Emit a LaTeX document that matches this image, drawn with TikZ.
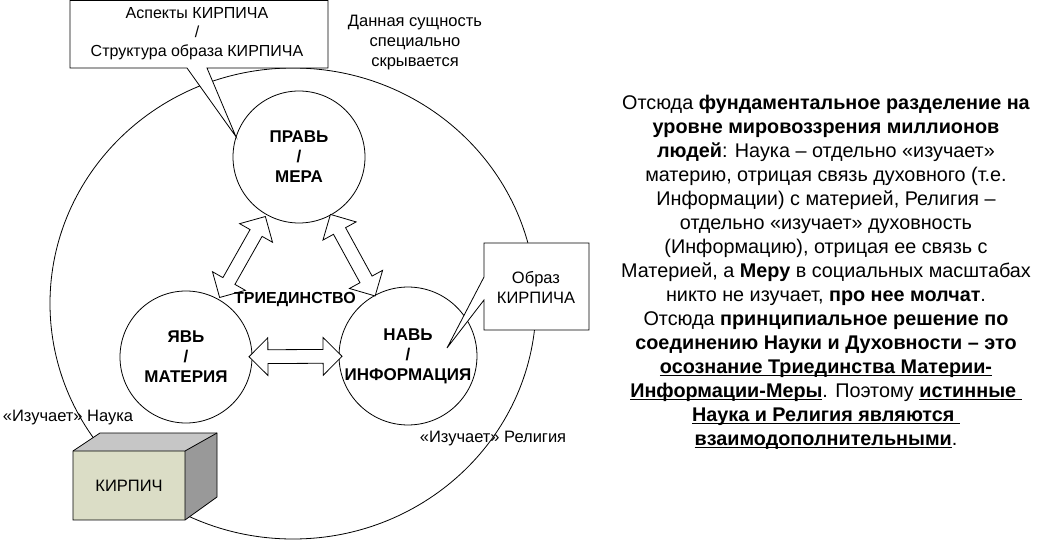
\documentclass[tikz,border=0pt]{standalone}
\usepackage{fontspec}
\setmainfont{Liberation Sans}
\usetikzlibrary{shapes.arrows}

% underline placed like a word processor does it
\newcommand\ulword[1]{\setbox0\hbox{#1}\rlap{\rule[-2.8pt]{\wd0}{1.3pt}}\box0}

\tikzset{
  ring/.style={circle, draw, fill=white, minimum size=132pt, inner sep=0pt, align=center, font=\bfseries\fontsize{17}{20}\selectfont},
  dblarr/.style={double arrow, draw, fill=white, minimum height=93pt, inner xsep=0pt, inner ysep=6.5pt, double arrow head extend=12pt},
  lbl/.style={align=center, inner sep=0pt, font=\fontsize{16.5}{20}\selectfont},
}

\begin{document}
\begin{tikzpicture}[x=1pt, y=-1pt, line width=0.8pt]
            \useasboundingbox (0,0) rectangle (1037,540);

            % Draw big ring
            \draw (293,303.5) ellipse [x radius=243, y radius=235.5];

            % Draw the three circles
            \node[ring] (prav) at (299,157) {ПРАВЬ\\/\\МЕРА};
            \node[ring] (yav) at (186,357) {ЯВЬ\\/\\МАТЕРИЯ};
            \node[ring] (nav) at (408,356) {НАВЬ\\/\\ИНФОРМАЦИЯ};

            % Draw callouts
            \draw[fill=white] (70,0.5) -- (328,0.5) -- (328,68) -- (207,68) -- (prav.162) -- (187,68) -- (70,68) -- cycle;
            \node[lbl, font=\fontsize{16}{19}\selectfont] (aspekty) at (197,34) {Аспекты КИРПИЧА\\/\\Структура образа КИРПИЧА};

            \coordinate (obrazTip) at (447,348);
            \draw[fill=white] (589,243) -- (484,243) -- (484,277) -- (obrazTip) -- (484,300) -- (484,330) -- (589,330) -- cycle;
            \node[lbl] (obraz) at (536,287) {Образ\\КИРПИЧА};

            % Draw block arrows
            \path (yav) -- (prav) node[dblarr, sloped, midway] (arrYP) {};
            \path (prav) -- (nav) node[dblarr, sloped, midway] (arrPN) {};
            \path (yav) -- (nav) node[dblarr, sloped, midway] (arrYN) {};

            \node[font=\bfseries\fontsize{16}{18}\selectfont] (triedinstvo) at (295,300) {ТРИЕДИНСТВО};

            % Draw brick
            \fill[gray!45] (73,451) -- (100,433) -- (217,433) -- (185,451) -- cycle;
            \fill[gray!80] (185,451) -- (217,433) -- (217,497) -- (185,520) -- cycle;
            \fill[fill={rgb,255:red,219;green,221;blue,198}] (73,451) rectangle (185,520);
            \draw (73,451) -- (100,433) -- (217,433) -- (217,497) -- (185,520) -- (73,520) -- cycle;
            \draw (73,451) -- (185,451) -- (217,433) (185,451) -- (185,520);
            \node[lbl] (kirpich) at (129,486) {КИРПИЧ};

            % Labels
            \node[lbl] (nauka) at (68,418) {«Изучает» Наука};
            \node[lbl] (religiya) at (493,439) {«Изучает» Религия};
            \node[lbl] (skryto) at (415,43) {Данная сущность\\специально\\скрывается};

            % Right text
            \node[align=center, inner sep=0pt, font=\fontsize{19.8}{24}\selectfont] (otsyuda) at (826,272) {%
              Отсюда \textbf{фундаментальное разделение на}\\
              \textbf{уровне мировоззрения миллионов}\\
              \textbf{людей}: Наука – отдельно «изучает»\\
              материю, отрицая связь духовного (т.е.\\
              Информации) с материей, Религия –\\
              отдельно «изучает» духовность\\
              (Информацию), отрицая ее связь с\\
              Материей, а \textbf{Меру} в социальных масштабах\\
              никто не изучает, \textbf{про нее молчат}.\\
              Отсюда \textbf{принципиальное решение по}\\
              \textbf{соединению Науки и Духовности – это}\\
              \ulword{\bfseries осознание Триединства Материи-}\\
              \ulword{\bfseries Информации-Меры}. Поэтому \ulword{\bfseries истинные\ }\\
              \ulword{\bfseries Наука и Религия являются\ }\\
              \ulword{\bfseries взаимодополнительными}.};
\end{tikzpicture}
\end{document}
